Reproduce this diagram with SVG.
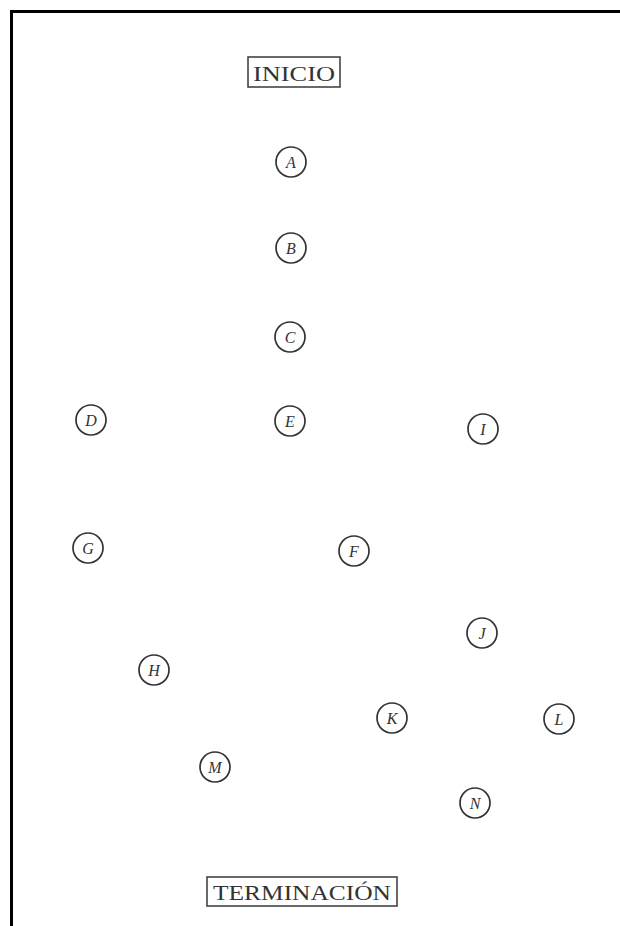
<svg xmlns="http://www.w3.org/2000/svg" width="620" height="926" viewBox="0 0 620 926">
<style>
.n circle{fill:none;stroke:#333;stroke-width:1.7}
.n text{font-family:"Liberation Serif",serif;font-style:italic;font-size:16px;fill:#333;text-anchor:middle;dominant-baseline:central}
.box rect{fill:#fff;stroke:#444;stroke-width:1.6}
.box text{font-family:"Liberation Serif",serif;font-size:22px;fill:#333;text-anchor:middle;dominant-baseline:central}
</style>
<rect width="620" height="926" fill="#fff"/>
<path d="M11.5 926V11.5H620" fill="none" stroke="#000" stroke-width="3"/>
<g id="connectors"></g>
<g id="inicio" class="box"><rect x="248" y="57" width="92" height="30"/><text x="294" y="73" textLength="82" lengthAdjust="spacingAndGlyphs">INICIO</text></g>
<g id="terminacion" class="box"><rect x="207" y="877" width="190" height="29"/><text x="302" y="892" textLength="178" lengthAdjust="spacingAndGlyphs">TERMINACIÓN</text></g>
<g id="A" class="n"><circle cx="291" cy="162" r="15"/><text x="291" y="162">A</text></g>
<g id="B" class="n"><circle cx="291" cy="248" r="15"/><text x="291" y="248">B</text></g>
<g id="C" class="n"><circle cx="290" cy="337" r="15"/><text x="290" y="337">C</text></g>
<g id="D" class="n"><circle cx="91" cy="420" r="15"/><text x="91" y="420">D</text></g>
<g id="E" class="n"><circle cx="290" cy="421" r="15"/><text x="290" y="421">E</text></g>
<g id="I" class="n"><circle cx="483" cy="429" r="15"/><text x="483" y="429">I</text></g>
<g id="G" class="n"><circle cx="88" cy="548" r="15"/><text x="88" y="548">G</text></g>
<g id="F" class="n"><circle cx="354" cy="551" r="15"/><text x="354" y="551">F</text></g>
<g id="J" class="n"><circle cx="482" cy="633" r="15"/><text x="482" y="633">J</text></g>
<g id="H" class="n"><circle cx="154" cy="670" r="15"/><text x="154" y="670">H</text></g>
<g id="K" class="n"><circle cx="392" cy="718" r="15"/><text x="392" y="718">K</text></g>
<g id="L" class="n"><circle cx="559" cy="719" r="15"/><text x="559" y="719">L</text></g>
<g id="M" class="n"><circle cx="215" cy="767" r="15"/><text x="215" y="767">M</text></g>
<g id="N" class="n"><circle cx="475" cy="803" r="15"/><text x="475" y="803">N</text></g>
</svg>
